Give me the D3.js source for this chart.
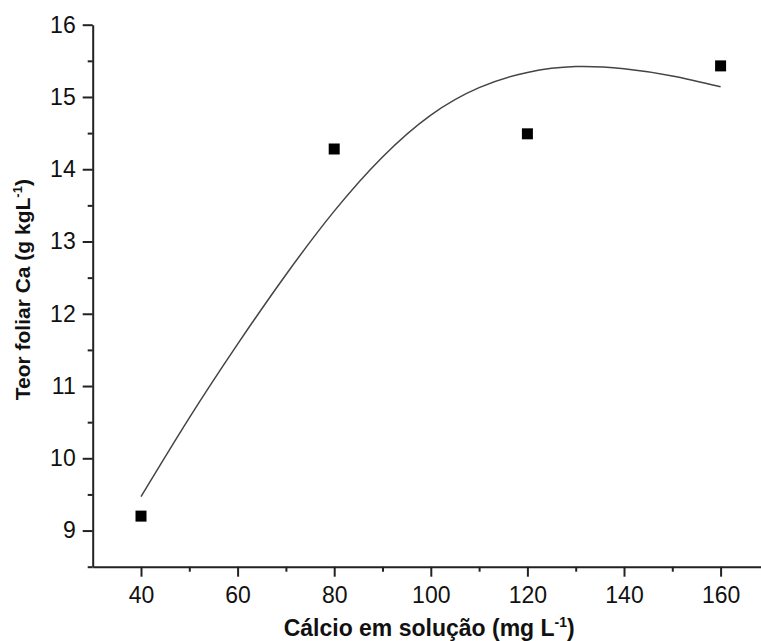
<!DOCTYPE html>
<html>
<head>
<meta charset="utf-8">
<script src="https://cdn.jsdelivr.net/npm/d3@7"></script>
<style>
  html, body { margin: 0; padding: 0; background: #fff; }
  svg { display: block; }
</style>
</head>
<body>
<svg id="chart" width="761" height="641"></svg>
<script>
// ---- data ----
const doseX = [40, 80, 120, 160];
const teorCa = [9.20, 14.28, 14.49, 15.43];
// fitted curve
const curveX = [40, 50, 60, 70, 80, 90, 100, 110, 120, 130, 140, 150, 160];
const curveY = [9.47, 10.56, 11.58, 12.54, 13.42, 14.17, 14.75, 15.13, 15.34, 15.42, 15.39, 15.29, 15.14];
const xMajorTicks = [40, 60, 80, 100, 120, 140, 160];
const xMinorTicks = [50, 70, 90, 110, 130, 150];
const yMajorTicks = [9, 10, 11, 12, 13, 14, 15, 16];
const yMinorTicks = [8.5, 9.5, 10.5, 11.5, 12.5, 13.5, 14.5, 15.5];

const svg = d3.select("#chart");
const mLeft = 92.7, mRight = 768.9, mTop = 24.7, mBottom = 566.7;

const x = d3.scaleLinear().domain([30, 170]).range([mLeft, mRight]);
const y = d3.scaleLinear().domain([8.5, 16]).range([mBottom, mTop]);

const axisColor = "#222";
const font = "Arial, 'Liberation Sans', sans-serif";

function styleAxis(g) {
  g.selectAll(".domain").attr("stroke", axisColor).attr("stroke-width", 2);
  g.selectAll(".tick line").attr("stroke", axisColor).attr("stroke-width", 2);
  g.selectAll(".tick text").attr("fill", "#111").style("font-family", font).style("font-size", "23px");
}

// x axis
const gxMinor = svg.append("g").attr("transform", `translate(0,${mBottom})`)
  .call(d3.axisBottom(x).tickValues(xMinorTicks).tickSize(5).tickFormat(""));
gxMinor.select(".domain").remove();
gxMinor.selectAll(".tick line").attr("stroke", axisColor).attr("stroke-width", 2);

const gx = svg.append("g").attr("transform", `translate(0,${mBottom})`)
  .call(d3.axisBottom(x).tickValues(xMajorTicks).tickSize(10).tickSizeOuter(0).tickPadding(10).tickFormat(d3.format("d")));
styleAxis(gx);

// y axis
const gyMinor = svg.append("g").attr("transform", `translate(${mLeft},0)`)
  .call(d3.axisLeft(y).tickValues(yMinorTicks).tickSize(5).tickFormat(""));
gyMinor.select(".domain").remove();
gyMinor.selectAll(".tick line").attr("stroke", axisColor).attr("stroke-width", 2);

const gy = svg.append("g").attr("transform", `translate(${mLeft},0)`)
  .call(d3.axisLeft(y).tickValues(yMajorTicks).tickSize(10).tickSizeOuter(0).tickPadding(7).tickFormat(d3.format("d")));
styleAxis(gy);

// fitted curve
const pts = curveX.map((d, i) => [d, curveY[i]]);
svg.append("path")
  .datum(pts)
  .attr("fill", "none")
  .attr("stroke", "#444")
  .attr("stroke-width", 1.5)
  .attr("d", d3.line().x(d => x(d[0])).y(d => y(d[1])).curve(d3.curveNatural));

// points
const sq = 11;
svg.append("g").selectAll("rect")
  .data(doseX.map((d, i) => [d, teorCa[i]]))
  .join("rect")
  .attr("x", d => x(d[0]) - sq / 2)
  .attr("y", d => y(d[1]) - sq / 2)
  .attr("width", sq)
  .attr("height", sq)
  .attr("fill", "#000");

// axis titles
const xt = svg.append("text")
  .attr("x", (281.7 + 576.7) / 2)
  .attr("y", 636)
  .attr("text-anchor", "middle")
  .style("font-family", font)
  .style("font-size", "23px")
  .style("font-weight", "bold")
  .attr("fill", "#111");
xt.append("tspan").text("Cálcio em solução (mg L");
xt.append("tspan").text("-1").style("font-size", "14px").attr("dy", "-9");
xt.append("tspan").text(")").attr("dy", "9");

const yt = svg.append("text")
  .attr("transform", `translate(30,${(mTop + mBottom) / 2 - 6}) rotate(-90)`)
  .attr("text-anchor", "middle")
  .style("font-family", font)
  .style("font-size", "21px")
  .style("font-weight", "bold")
  .attr("fill", "#111");
yt.append("tspan").text("Teor foliar Ca (g kgL");
yt.append("tspan").text("-1").style("font-size", "13px").attr("dy", "-8");
yt.append("tspan").text(")").attr("dy", "8");
</script>
</body>
</html>
